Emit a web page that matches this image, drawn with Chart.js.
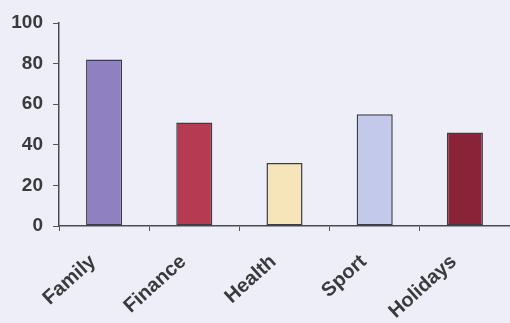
<!DOCTYPE html>
<html>
<head>
<meta charset="utf-8">
<script src="https://cdn.jsdelivr.net/npm/chart.js@4/dist/chart.umd.min.js"></script>
<style>
  html, body { margin: 0; padding: 0; background: #eeeef8; }
  #wrap { width: 510px; height: 323px; }
</style>
</head>
<body>
<div id="wrap"><canvas id="chart" width="510" height="323"></canvas></div>
<script>
  // values
  const categories = ['Family', 'Finance', 'Health', 'Sport', 'Holidays'];
  const values = [82, 51, 31, 55, 46];
  const barColors = ['#8f80c2', '#b53a52', '#f6e5b8', '#c2c9ea', '#8a2238'];
  const yTicks = [0, 20, 40, 60, 80, 100];

  const fontFamily = '"Liberation Sans", Arial, sans-serif';

  new Chart(document.getElementById('chart'), {
    type: 'bar',
    data: {
      labels: categories,
      datasets: [{
        data: values,
        backgroundColor: barColors,
        borderColor: '#3d3d45',
        borderWidth: 1.5,
        borderSkipped: false,
        categoryPercentage: 1,
        barPercentage: 0.4
      }]
    },
    options: {
      responsive: false,
      animation: false,
      layout: { padding: { top: 23, right: 0, left: 0, bottom: 0 } },
      plugins: { legend: { display: false }, tooltip: { enabled: false } },
      scales: {
        x: {
          grid: { drawOnChartArea: false, tickLength: 5, color: '#555', offset: true },
          border: { color: '#4a4a52', width: 1.5 },
          ticks: {
            color: '#3a3a3a',
            font: { family: fontFamily, size: 20, weight: 'bold' },
            minRotation: 42, maxRotation: 42,
            padding: 19, labelOffset: -11
          },
          afterFit: s => { s.height = 97; }
        },
        y: {
          min: 0,
          max: 100,
          afterBuildTicks: s => { s.ticks = yTicks.map(v => ({ value: v })); },
          grid: { drawOnChartArea: false, tickLength: 6, color: '#555' },
          border: { color: '#4a4a52', width: 1.5 },
          ticks: { color: '#3a3a3a', font: { family: fontFamily, size: 19, weight: 'bold' }, padding: 10 },
          afterFit: s => { s.width = 59; }
        }
      }
    }
  });
</script>
</body>
</html>
